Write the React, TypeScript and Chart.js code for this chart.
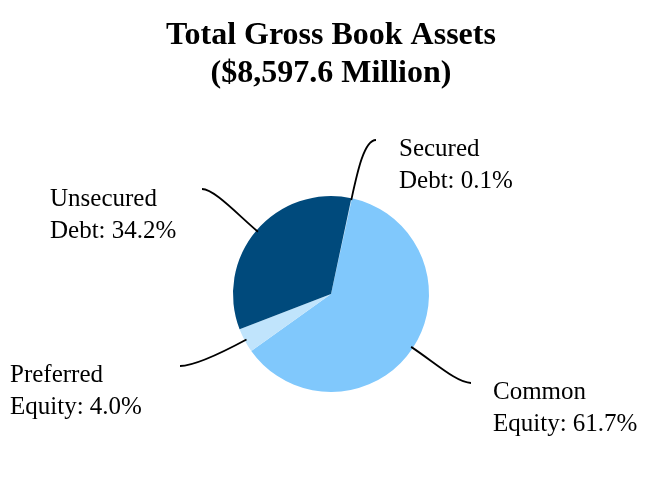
import { useEffect, useRef } from "react"
import { Chart, PieController, ArcElement } from "chart.js"

Chart.register(PieController, ArcElement)

const titleLines = ["Total Gross Book Assets", "($8,597.6 Million)"]

// slices, clockwise from the top
const categories = ["Secured Debt", "Common Equity", "Preferred Equity", "Unsecured Debt"]
const shares = [0.1, 61.7, 4.0, 34.2]
const labelLines = [
  ["Secured", "Debt: 0.1%"],
  ["Common", "Equity: 61.7%"],
  ["Preferred", "Equity: 4.0%"],
  ["Unsecured", "Debt: 34.2%"],
]

const colors = ["#d8ecfc", "#80c8fc", "#c0e4fc", "#004a7c"]

// label text anchor (left, first baseline) and leader-line end, per slice
const labelPos = [
  { x: 399, y: 156, ex: 376, ey: 140, bend: 12 },
  { x: 493, y: 399, ex: 471, ey: 383, bend: 14 },
  { x: 10, y: 382, ex: 180, ey: 366, bend: -14 },
  { x: 50, y: 206, ex: 202, ey: 189, bend: -12 },
]

const serif = '"Liberation Serif", "Times New Roman", serif'

const annotate = {
  id: "annotate",
  afterDraw(chart: Chart) {
    const ctx = chart.ctx
    ctx.save()
    ctx.fillStyle = "#000"

    // title
    ctx.font = `bold 32px ${serif}`
    ctx.textAlign = "center"
    ctx.textBaseline = "alphabetic"
    ctx.fillText(titleLines[0], 331, 44)
    ctx.fillText(titleLines[1], 331, 82)

    const meta = chart.getDatasetMeta(0)
    meta.data.forEach((el: any, i: number) => {
      const { x, y, startAngle, endAngle, outerRadius } = el.getProps(
        ["x", "y", "startAngle", "endAngle", "outerRadius"],
        true
      )
      const mid = (startAngle + endAngle) / 2
      const dx = Math.cos(mid)
      const dy = Math.sin(mid)
      const p = labelPos[i]
      const sx = x + dx * (outerRadius - 2)
      const sy = y + dy * (outerRadius - 2)
      const c1x = x + dx * (outerRadius + 26)
      const c1y = y + dy * (outerRadius + 26)
      const c2x = p.ex - p.bend
      const c2y = p.ey

      ctx.beginPath()
      ctx.strokeStyle = "#000"
      ctx.lineWidth = 1.8
      ctx.moveTo(sx, sy)
      ctx.bezierCurveTo(c1x, c1y, c2x, c2y, p.ex, p.ey)
      ctx.stroke()

      ctx.font = `25px ${serif}`
      ctx.textAlign = "left"
      labelLines[i].forEach((t, j) => ctx.fillText(t, p.x, p.y + j * 32))
    })
    ctx.restore()
  },
}

export default function App() {
  const canvasRef = useRef<HTMLCanvasElement>(null)
  const chartRef = useRef<Chart | null>(null)

  useEffect(() => {
    if (!canvasRef.current) return
    if (chartRef.current) chartRef.current.destroy()

    chartRef.current = new Chart(canvasRef.current, {
      type: "pie",
      data: {
        labels: categories,
        datasets: [
          {
            data: shares,
            backgroundColor: colors,
            borderWidth: 0,
          },
        ],
      },
      options: {
        responsive: true,
        maintainAspectRatio: false,
        animation: false,
        rotation: 12,
        events: [],
        layout: { padding: { top: 196, bottom: 92, left: 233, right: 233 } },
        plugins: {
          legend: { display: false },
          tooltip: { enabled: false },
        },
      },
      plugins: [annotate],
    })

    return () => {
      if (chartRef.current) {
        chartRef.current.destroy()
        chartRef.current = null
      }
    }
  }, [])

  return (
    <div style={{ position: "absolute", left: 0, top: 0, width: 662, height: 484, background: "#fff" }}>
      <canvas ref={canvasRef} />
    </div>
  )
}
